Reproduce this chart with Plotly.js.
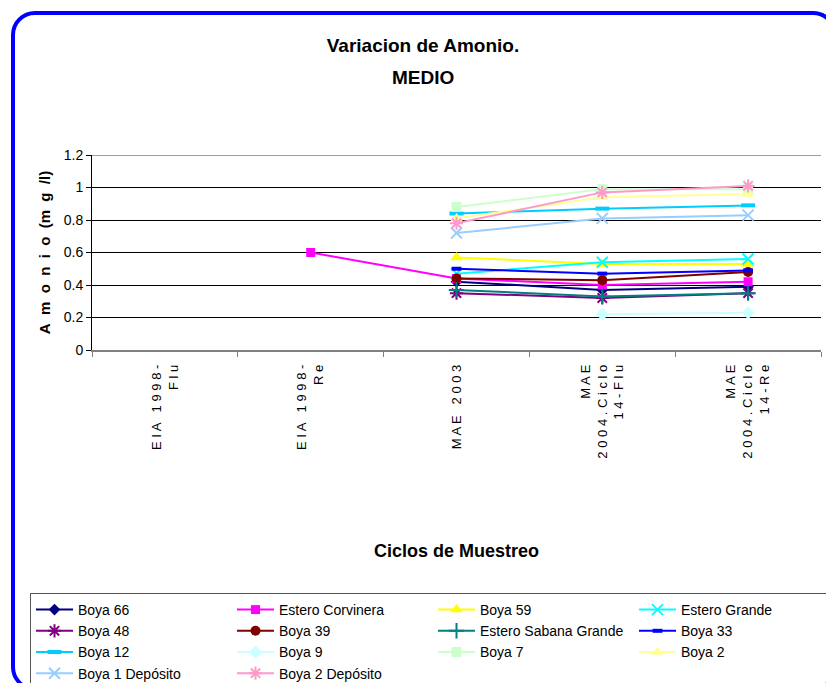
<!DOCTYPE html>
<html>
<head>
<meta charset="utf-8">
<script src="https://cdn.plot.ly/plotly-3.0.1.min.js"></script>
<style>
html,body{margin:0;padding:0;background:#fff;overflow:hidden;}
#wrap{position:relative;width:826px;height:683px;overflow:hidden;}
#chart{position:absolute;left:0;top:0;width:870px;height:710px;}
#frame{position:absolute;left:11px;top:11px;width:818px;height:672px;border:4px solid #0000ff;border-radius:24px;pointer-events:none;}
</style>
</head>
<body>
<div id="wrap"><div id="chart"></div><div id="frame"></div></div>
<script>
function sp(s){ return s.split('').join(' '); }
const categories = [
  sp('EIA 1998-') + '<br>' + sp('Flu'),
  sp('EIA 1998-') + '<br>' + sp('Re'),
  sp('MAE 2003'),
  sp('MAE') + '<br>' + sp('2004.Ciclo') + '<br>' + sp('14-Flu'),
  sp('MAE') + '<br>' + sp('2004.Ciclo') + '<br>' + sp('14-Re')
];
const seriesNames = ['Boya 66','Estero Corvinera','Boya 59','Estero Grande','Boya 48','Boya 39','Estero Sabana Grande','Boya 33','Boya 12','Boya 9','Boya 7','Boya 2','Boya 1 Depósito','Boya 2 Depósito'];
const boya66 = [null, null, 0.42, 0.37, 0.39];
const esteroCorvinera = [null, 0.60, 0.44, 0.40, 0.42];
const boya59 = [null, null, 0.57, 0.53, 0.53];
const esteroGrande = [null, null, 0.47, 0.54, 0.56];
const boya48 = [null, null, 0.35, 0.32, 0.35];
const boya39 = [null, null, 0.44, 0.43, 0.48];
const esteroSabanaGrande = [null, null, 0.37, 0.33, 0.35];
const boya33 = [null, null, 0.50, 0.47, 0.49];
const boya12 = [null, null, 0.84, 0.87, 0.89];
const boya9 = [null, null, null, 0.22, 0.23];
const boya7 = [null, null, 0.88, 0.99, 0.99];
const boya2 = [null, null, 0.81, 0.94, 0.96];
const boya1Deposito = [null, null, 0.72, 0.81, 0.83];
const boya2Deposito = [null, null, 0.78, 0.97, 1.01];
const seriesValues = [boya66, esteroCorvinera, boya59, esteroGrande, boya48, boya39, esteroSabanaGrande, boya33, boya12, boya9, boya7, boya2, boya1Deposito, boya2Deposito];

const styles = [
  {c:'#000080', s:'diamond', z:9},
  {c:'#ff00ff', s:'square', z:9},
  {c:'#ffff00', s:'triangle-up', z:11},
  {c:'#00ffff', s:'x-thin-open', z:11, lw:2},
  {c:'#800080', s:'asterisk-open', z:11, lw:2},
  {c:'#800000', s:'circle', z:10},
  {c:'#008080', s:'cross-thin-open', z:11, lw:2},
  {c:'#0000ff', s:'line-ew-open', z:7, lw:4},
  {c:'#00ccff', s:'line-ew-open', z:10, lw:4},
  {c:'#ccffff', s:'diamond', z:10},
  {c:'#ccffcc', s:'square', z:10},
  {c:'#ffff99', s:'triangle-up', z:11},
  {c:'#99ccff', s:'x-thin-open', z:11, lw:2},
  {c:'#ff99cc', s:'asterisk-open', z:11, lw:2}
];

const FONT = 'Liberation Sans, Arial, sans-serif';
const W = 870, H = 710;
const traces = seriesNames.map((n,i)=>({
  type:'scatter', mode:'lines+markers', name:n,
  x:categories, y:seriesValues[i],
  line:{color:styles[i].c, width:2},
  marker:{symbol:styles[i].s, size:styles[i].z, color:styles[i].c,
          line:{color:styles[i].c, width:styles[i].lw||0}},
  connectgaps:false
}));
const NB = '\u00a0\u00a0';
const yTitle = ['A','m','o','n','i','o','(m','g','/l)'].join(NB);

const layout = {
  width:W, height:H,
  margin:{l:92, r:W-821, t:155, b:H-350},
  paper_bgcolor:'#ffffff', plot_bgcolor:'#ffffff',
  font:{family:FONT, color:'#000000', size:14},
  showlegend:true,
  title:{text:'<b>Variacion de Amonio.</b>', x:423/W, xanchor:'center', yref:'container', y:1-45/H, yanchor:'middle',
         font:{family:FONT, size:19, color:'#000'}},
  annotations:[{text:'<b>MEDIO</b>', xref:'paper', yref:'paper', x:(423-92)/729, y:1+(155-77)/195, xanchor:'center', yanchor:'middle',
                showarrow:false, font:{family:FONT, size:19, color:'#000'}}],
  xaxis:{type:'category', categoryorder:'array', categoryarray:categories, range:[-0.5, 4.5], autorange:false,
         tickangle:-90, tickfont:{family:FONT, size:13, color:'#000'}, ticklabelstandoff:8,
         showline:true, linecolor:'#808080', linewidth:1.5, ticks:'outside', tickson:'boundaries', ticklen:5, tickcolor:'#808080',
         showgrid:false, zeroline:false, fixedrange:true,
         title:{text:'<b>Ciclos de Muestreo</b>', standoff:87, font:{family:FONT, size:18, color:'#000'}}},
  yaxis:{range:[0,1.2], dtick:0.2, tickformat:'.1~f', autorange:false,
         showline:true, linecolor:'#000', linewidth:1, ticks:'outside', ticklen:5, tickcolor:'#000',
         showgrid:true, gridcolor:'#000', gridwidth:1, zeroline:false,
         tickfont:{family:FONT, size:14, color:'#000'},
         title:{text:'<b>' + yTitle + '</b>', standoff:9, font:{family:FONT, size:15, color:'#000'}}},
  legend:{orientation:'h', xref:'paper', yref:'paper', x:(30-92)/729, xanchor:'left', y:-(593-350)/195, yanchor:'top',
          bordercolor:'#555555', borderwidth:1, bgcolor:'#ffffff',
          entrywidth:149, entrywidthmode:'pixels', itemwidth:37, tracegroupgap:0,
          font:{family:FONT, size:14, color:'#000'}, traceorder:'normal'},
  shapes:[{type:'line', xref:'paper', yref:'y', x0:0, x1:1, y0:1.2, y1:1.2, line:{color:'#808080', width:1.5}}]
};
Plotly.newPlot('chart', traces, layout, {displayModeBar:false, staticPlot:true});
</script>
</body>
</html>
